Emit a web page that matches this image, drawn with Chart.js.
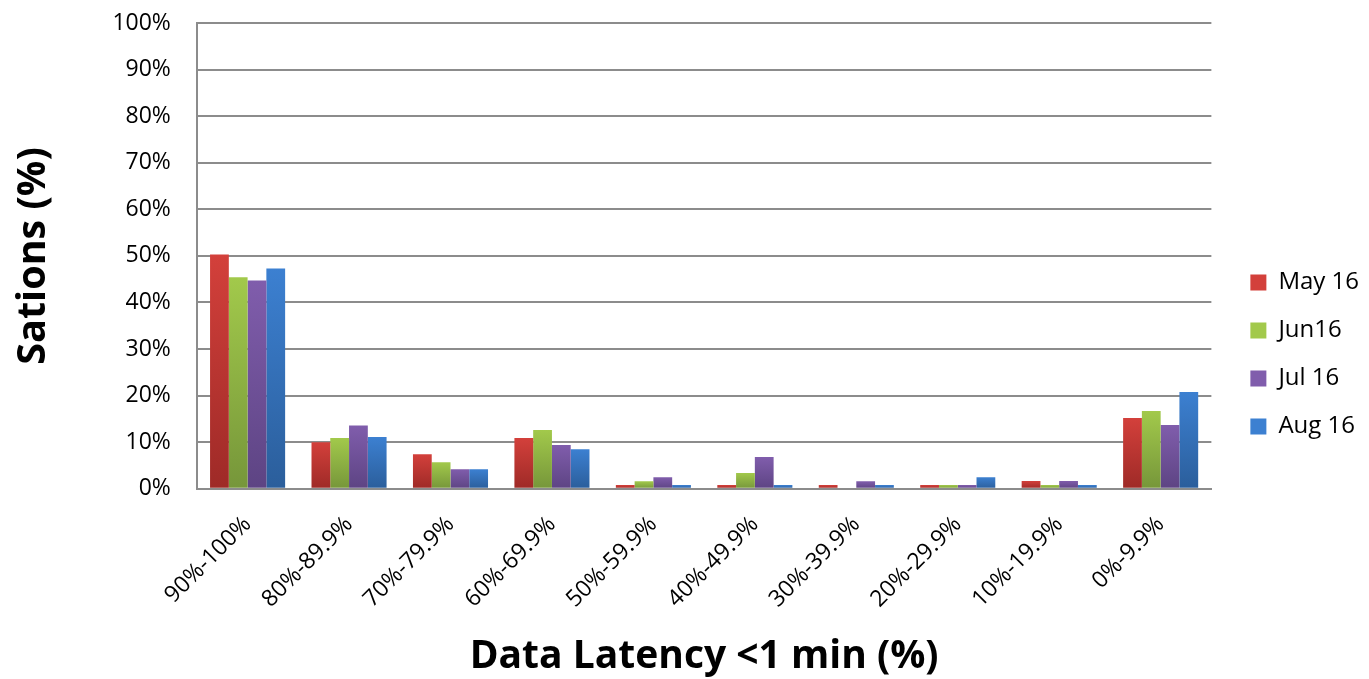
<!DOCTYPE html>
<html>
<head>
<meta charset="utf-8">
<script src="https://cdn.jsdelivr.net/npm/chart.js@4"></script>
<style>
    html, body { margin: 0; padding: 0; background: #fff; }
    #wrap { width: 1369px; height: 679px; }
</style>
</head>
<body>
<div id="wrap"><canvas id="chart" width="1369" height="679"></canvas></div>
<script>
// Data
const categories = ['90%-100%', '80%-89.9%', '70%-79.9%', '60%-69.9%', '50%-59.9%',
                    '40%-49.9%', '30%-39.9%', '20%-29.9%', '10%-19.9%', '0%-9.9%'];
const seriesNames = ['May 16', 'Jun16', 'Jul 16', 'Aug 16'];
const may16 = [50.3, 10.0, 7.4, 10.9, 0.8, 0.8, 0.8, 0.8, 1.7, 15.2];
const jun16 = [45.4, 10.9, 5.7, 12.6, 1.6, 3.4, 0.0, 0.8, 0.8, 16.7];
const jul16 = [44.7, 13.6, 4.2, 9.4, 2.5, 6.8, 1.6, 0.8, 1.7, 13.7];
const aug16 = [47.3, 11.1, 4.2, 8.5, 0.8, 0.8, 0.8, 2.5, 0.8, 20.8];

// top / bottom colour of each series gradient
const palette = [
    ['#d3403b', '#9e2a27'],
    ['#a2c94b', '#76963a'],
    ['#805dac', '#5d4483'],
    ['#3c80d1', '#2b5e9b']
];

const font = '"Open Sans", "DejaVu Sans", sans-serif';
const gridGray = '#8c8c8c';

// Per-bar vertical gradient, light at top, darker at the base
function barFill(idx) {
    return (context) => {
        const chart = context.chart;
        if (!chart.chartArea || context.parsed == null) return palette[idx][0];
        const y = chart.scales.y;
        const top = y.getPixelForValue(context.parsed.y);
        const bottom = y.getPixelForValue(0);
        if (!isFinite(top) || bottom - top < 1) return palette[idx][0];
        const g = chart.ctx.createLinearGradient(0, top, 0, bottom);
        g.addColorStop(0, palette[idx][0]);
        g.addColorStop(1, palette[idx][1]);
        return g;
    };
}

const datasets = [may16, jun16, jul16, aug16].map((values, i) => ({
    label: seriesNames[i],
    data: values,
    backgroundColor: barFill(i),
    borderWidth: 0,
    barPercentage: 1.0,
    categoryPercentage: 0.74
}));

new Chart(document.getElementById('chart'), {
    type: 'bar',
    data: { labels: categories, datasets },
    options: {
        responsive: false,
        animation: false,
        layout: { padding: { top: -15, right: 0, left: 10, bottom: -1 } },
        plugins: {
            tooltip: { enabled: false },
            legend: {
                position: 'right',
                align: 'center',
                // empty title only nudges the legend items down a little
                title: { display: true, text: ' ', font: { size: 10 }, padding: { top: 16, bottom: 16 } },
                labels: {
                    font: { family: font, size: 24 },
                    color: '#000',
                    boxWidth: 16,
                    boxHeight: 16,
                    padding: 24,
                    generateLabels: (chart) => chart.data.datasets.map((ds, i) => ({
                        text: ds.label,
                        fillStyle: palette[i][0],
                        strokeStyle: palette[i][0],
                        fontColor: '#000',
                        lineWidth: 0,
                        hidden: false,
                        datasetIndex: i
                    }))
                }
            }
        },
        scales: {
            x: {
                grid: { display: false, drawTicks: false },
                border: { color: gridGray, width: 2 },
                ticks: {
                    font: { family: font, size: 23 },
                    color: '#000',
                    minRotation: 45,
                    maxRotation: 45,
                    padding: 22
                },
                title: {
                    display: true,
                    text: 'Data Latency <1 min (%)',
                    font: { family: font, size: 39, weight: 'bold' },
                    color: '#000',
                    padding: { top: -2, bottom: 0 }
                }
            },
            y: {
                min: 0,
                max: 100,
                grid: { color: gridGray, lineWidth: 2, drawTicks: false },
                border: { color: gridGray, width: 2 },
                ticks: {
                    stepSize: 10,
                    font: { family: font, size: 23 },
                    color: '#000',
                    padding: 26,
                    callback: (v) => v + '%'
                },
                title: {
                    display: true,
                    text: 'Sations (%)',
                    font: { family: font, size: 39.5, weight: 'bold' },
                    color: '#000',
                    padding: { top: 0, bottom: 29 }
                },
                // tick padding would otherwise push the plot top down too far
                afterFit: (scale) => { scale.paddingTop = 23; }
            },
            // blank spacer between the plot and the legend
            gap: {
                position: 'right',
                display: true,
                grid: { display: false, drawTicks: false },
                border: { display: false },
                ticks: { display: false },
                afterFit: (scale) => { scale.width = 15; }
            }
        }
    }
});
</script>
</body>
</html>
